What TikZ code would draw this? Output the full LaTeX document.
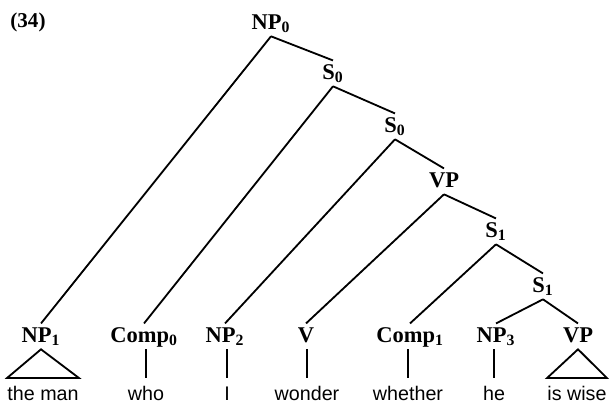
\documentclass[tikz,border=0pt]{standalone}
\usepackage{fontspec}
\setmainfont{Liberation Serif}
\setsansfont{Liberation Sans}
\usepackage{tikz}
\usetikzlibrary{positioning}

\begin{document}
\begin{tikzpicture}[
			x=0.025cm, y=-0.025cm,
			cat/.style={font=\bfseries\fontsize{16}{18}\selectfont, anchor=base, text height=11pt, text depth=3pt, inner xsep=1pt, inner ysep=2pt},
			word/.style={font=\sffamily\fontsize{14}{16}\selectfont, anchor=base, text height=10.5pt, text depth=3pt, inner xsep=0pt, inner ysep=5pt},
			branch/.style={line width=1.3pt}
			]
			\useasboundingbox (0,0) rectangle (611,402);
			\node[font=\bfseries\fontsize{15}{17}\selectfont, anchor=base] (num) at (28,27) {(34)};
			
			% spine of the tree
			\node[cat] (np0) at (271,29) {NP\textsubscript{0}};
			\node[cat] (s0a) at (333,79) {S\textsubscript{0}};
			\node[cat] (s0b) at (395,132) {S\textsubscript{0}};
			\node[cat] (vpa) at (444,187) {VP};
			\node[cat] (s1a) at (496,237) {S\textsubscript{1}};
			\node[cat] (s1b) at (543,292) {S\textsubscript{1}};
			
			% leaves
			\node[cat] (np1) at (41,342) {NP\textsubscript{1}};
			\node[cat] (comp0) at (144,342) {Comp\textsubscript{0}};
			\node[cat] (np2) at (225,342) {NP\textsubscript{2}};
			\node[cat] (v) at (306,342) {V};
			\node[cat] (comp1) at (410,342) {Comp\textsubscript{1}};
			\node[cat] (np3) at (496,342) {NP\textsubscript{3}};
			\node[cat] (vpb) at (578,342) {VP};
			
			% words
			\node[word] (theman) at (43,400) {the man};
			\node[word] (who) at (146,400) {who};
			\node[word] (i) at (227,400) {I};
			\node[word] (wonder) at (307,400) {wonder};
			\node[word] (whether) at (408,400) {whether};
			\node[word] (he) at (494,400) {he};
			\node[word] (iswise) at (577,400) {is wise};
			
			\draw[branch] (np0.south) -- (np1.north);
			\draw[branch] (np0.south) -- (s0a.north);
			\draw[branch] (s0a.south) -- (comp0.north);
			\draw[branch] (s0a.south) -- (s0b.north);
			\draw[branch] (s0b.south) -- (np2.north);
			\draw[branch] (s0b.south) -- (vpa.north);
			\draw[branch] (vpa.south) -- (v.north);
			\draw[branch] (vpa.south) -- (s1a.north);
			\draw[branch] (s1a.south) -- (comp1.north);
			\draw[branch] (s1a.south) -- (s1b.north);
			\draw[branch] (s1b.south) -- (np3.north);
			\draw[branch] (s1b.south) -- (vpb.north);
			
			\draw[branch] (np1.south) -- (theman.north west) -- (theman.north east) -- cycle;
			\draw[branch] (vpb.south) -- (iswise.north west) -- (iswise.north east) -- cycle;
			\draw[branch] (who.north) -- (who.north |- comp0.south);
			\draw[branch] (i.north) -- (i.north |- np2.south);
			\draw[branch] (wonder.north) -- (wonder.north |- v.south);
			\draw[branch] (whether.north) -- (whether.north |- comp1.south);
			\draw[branch] (he.north) -- (he.north |- np3.south);
		\end{tikzpicture}
\end{document}
